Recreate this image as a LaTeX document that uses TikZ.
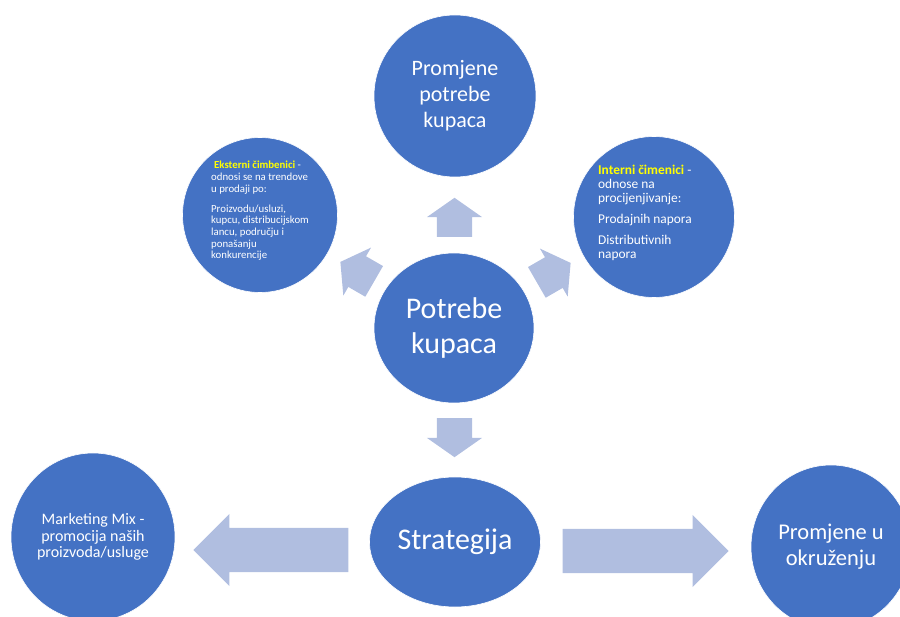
\documentclass[tikz,border=0pt]{standalone}
\usepackage{fontspec}
\setmainfont{Carlito}
\usetikzlibrary{calc, shapes.geometric, shapes.arrows}
\definecolor{cblue}{HTML}{4472C4}
\definecolor{carrow}{HTML}{B0BEE0}
\definecolor{cyel}{HTML}{FFFF00}
\tikzset{
    bubble/.style={ellipse, fill=cblue, draw=white, line width=0.6pt, text=white, align=center, inner sep=0pt},
    smallarrow/.style={single arrow, fill=carrow, draw=none, inner xsep=0pt, inner ysep=17.5pt, minimum height=39pt, single arrow head extend=10pt, single arrow tip angle=110},
    bigarrow/.style={single arrow, fill=carrow, draw=none, inner xsep=0pt, inner ysep=22pt, single arrow head extend=14pt, single arrow tip angle=90},
}

\begin{document}
\begin{tikzpicture}[x=1pt, y=-1pt]
    \useasboundingbox (0,0) rectangle (900,617);
    % krugovi
    \node (ctr) [bubble, minimum width=160pt, minimum height=150pt, font=\fontsize{30}{35}\selectfont] at (454,328) {Potrebe\\kupaca};
    \node (top) [bubble, minimum size=162pt, font=\fontsize{22}{26}\selectfont] at (455,96) {Promjene\\potrebe\\kupaca};
    \node (ext) [bubble, minimum size=155pt] at (260,215) {};
    \node (int) [bubble, minimum size=161pt] at (654,217) {};
    \node (strat) [bubble, minimum width=171pt, minimum height=130pt, font=\fontsize{30}{35}\selectfont] at (455,542) {Strategija};
    \node (mix) [bubble, minimum width=164pt, minimum height=168pt, font=\fontsize{16}{16.5}\selectfont] at (93,537) {Marketing Mix -\\promocija naših\\proizvoda/usluge};
    \node (env) [bubble, minimum width=160pt, minimum height=164pt, font=\fontsize{22.5}{26}\selectfont] at (831,547) {Promjene u\\okruženju};
    % tekst u bocnim krugovima
    \node (exttxt) [align=left, text=white, font=\fontsize{10.8}{11.7}\selectfont, xshift=0pt, yshift=4pt] at (ext) {\hspace*{3pt}\textcolor{cyel}{\bfseries Eksterni čimbenici} -\\odnosi se na trendove\\u prodaji po:\\[8pt]Proizvodu/usluzi,\\kupcu, distribucijskom\\lancu, području i\\ponašanju\\konkurencije};
    \node (inttxt) [align=left, text=white, font=\fontsize{13.4}{14}\selectfont, xshift=-9pt, yshift=4pt] at (int) {\textcolor{cyel}{\bfseries Interni čimenici} -\\odnose na\\procijenjivanje:\\[7pt]Prodajnih napora\\[7pt]Distributivnih\\napora};
    % strelice
    \node (aup) [smallarrow, rotate=90, xshift=-11.5pt] at ($(ctr)!0.5!(top)$) {};
    \node (adown) [smallarrow, rotate=-90, xshift=-3.5pt] at ($(ctr)!0.5!(strat)$) {};
    \node (aext) [smallarrow, rotate=150, xshift=-6.5pt] at ($(ctr)!0.5!(ext)$) {};
    \node (aint) [smallarrow, rotate=30, xshift=-6.5pt] at ($(ctr)!0.5!(int)$) {};
    \node (amix) [bigarrow, minimum height=155pt, rotate=180, anchor=tip] at (193,550) {};
    \node (aenv) [bigarrow, minimum height=166pt, anchor=tip] at (729,551) {};
\end{tikzpicture}
\end{document}
